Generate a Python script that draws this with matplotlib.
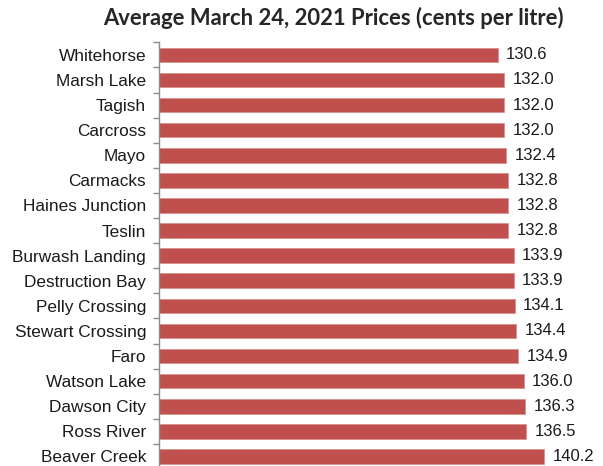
import matplotlib
matplotlib.use("Agg")
import matplotlib.pyplot as plt
import numpy as np

locations = ["Whitehorse", "Marsh Lake", "Tagish", "Carcross", "Mayo", "Carmacks",
             "Haines Junction", "Teslin", "Burwash Landing", "Destruction Bay",
             "Pelly Crossing", "Stewart Crossing", "Faro", "Watson Lake",
             "Dawson City", "Ross River", "Beaver Creek"]
prices = [130.6, 132.0, 132.0, 132.0, 132.4, 132.8, 132.8, 132.8, 133.9, 133.9,
          134.1, 134.4, 134.9, 136.0, 136.3, 136.5, 140.2]
title = "Average March 24, 2021 Prices (cents per litre)"

W, H = 603, 466
fig = plt.figure(figsize=(W / 100, H / 100), dpi=100)
left_px, right_px, top_px, bot_px = 159.3, 590, 42.3, 469
ax = fig.add_axes([left_px / W, (H - bot_px) / H, (right_px - left_px) / W, (bot_px - top_px) / H])

y = np.arange(len(locations))
bars = ax.barh(y, prices, height=0.58, color="#C0504D", edgecolor="#DA908E", linewidth=0.6)
ax.set_ylim(len(locations) - 0.5, -0.5)
xmin = 60.4
px_per_unit = (544 - left_px) / (140.2 - xmin)
ax.set_xlim(xmin, xmin + (right_px - left_px) / px_per_unit)

ax.set_yticks(y)
ax.set_yticklabels(locations, fontsize=12.4, family="Liberation Sans", color="#1a1a1a")
ax.set_yticks(np.arange(len(locations) + 1) - 0.5, minor=True)
ax.tick_params(axis="y", which="major", length=0, pad=9.5)
ax.tick_params(axis="y", which="minor", length=4, width=1, color="#8c8c8c")
ax.set_xticks([])

for s in ["top", "right", "bottom"]:
    ax.spines[s].set_visible(False)
ax.spines["left"].set_color("#8c8c8c")
ax.spines["left"].set_linewidth(1)

labels = ax.bar_label(bars, labels=[f"{p:.1f}" for p in prices], padding=6,
                      fontsize=12, family="Liberation Sans", color="#1a1a1a")

fig.text(333.5 / W, 1 - 18 / H, title, ha="center", va="center", fontsize=15.8,
         fontweight="bold", family="Lato", color="#262626")

fig.savefig("out.png", dpi=100)
